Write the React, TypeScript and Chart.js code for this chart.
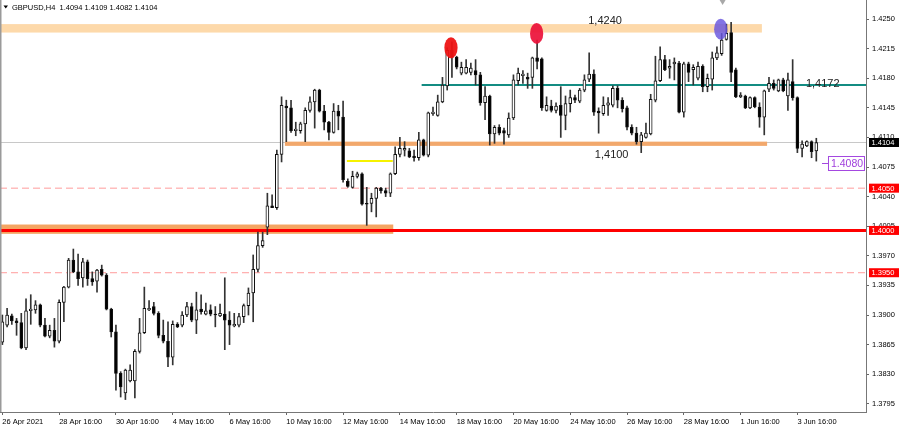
import { useEffect, useRef } from 'react';
import { Chart, registerables } from 'chart.js';

Chart.register(...registerables);

const FONT = "'Liberation Sans', Arial, sans-serif";

// ---- GBPUSD H4 candles (26 Apr 16:00 -> 4 Jun 08:00) ----
const opens = [
  1.3868,1.3888,1.3899,1.3893,1.3891,1.3861,1.3905,1.3906,1.3912,1.3888,
  1.3875,1.3882,1.3869,1.3915,1.3933,1.3965,1.3951,1.3944,1.3963,1.3943,
  1.3940,1.3954,1.3947,1.3907,1.3880,1.3831,1.3808,1.3822,1.3822,1.3857,
  1.3879,1.3906,1.3910,1.3902,1.3876,1.3869,1.3850,1.3889,1.3888,1.3900,
  1.3910,1.3894,1.3907,1.3901,1.3906,1.3901,1.3899,1.3901,1.3894,1.3887,
  1.3888,1.3898,1.3911,1.3926,1.3954,1.3982,1.4004,1.4029,1.4027,1.4090,
  1.4147,1.4145,1.4118,1.4118,1.4126,1.4142,1.4152,1.4166,1.4141,1.4128,
  1.4116,1.4141,1.4134,1.4058,1.4051,1.4064,1.4067,1.4032,1.4032,1.4038,
  1.4050,1.4047,1.4044,1.4067,1.4090,1.4095,1.4094,1.4088,1.4086,1.4107,
  1.4089,1.4138,1.4136,1.4152,1.4171,1.4213,1.4205,1.4186,1.4186,1.4187,
  1.4189,1.4184,1.4151,1.4159,1.4114,1.4122,1.4118,1.4113,1.4133,1.4177,
  1.4183,1.4181,1.4181,1.4204,1.4203,1.4142,1.4147,1.4142,1.4148,1.4136,
  1.4150,1.4157,1.4153,1.4166,1.4179,1.4185,1.4141,1.4138,1.4148,1.4148,
  1.4168,1.4154,1.4145,1.4122,1.4115,1.4105,1.4110,1.4114,1.4154,1.4177,
  1.4202,1.4192,1.4197,1.4198,1.4140,1.4197,1.4190,1.4180,1.4194,1.4170,
  1.4179,1.4204,1.4209,1.4226,1.4234,1.4190,1.4158,1.4159,1.4145,1.4157,
  1.4146,1.4134,1.4167,1.4174,1.4165,1.4178,1.4159,1.4176,1.4157,1.4097,
  1.4100,1.4105,1.4094,
];
const highs = [
  1.3900,1.3908,1.3901,1.3896,1.3902,1.3919,1.3924,1.3917,1.3913,1.3896,
  1.3888,1.3896,1.3918,1.3934,1.3967,1.3978,1.3972,1.3967,1.3965,1.3951,
  1.3954,1.3959,1.3949,1.3908,1.3888,1.3833,1.3836,1.3841,1.3859,1.3896,
  1.3933,1.3917,1.3915,1.3904,1.3894,1.3892,1.3893,1.3891,1.3904,1.3915,
  1.3914,1.3927,1.3924,1.3914,1.3912,1.3910,1.3913,1.3944,1.3904,1.3902,
  1.3902,1.3913,1.3932,1.3971,1.3998,1.3998,1.4044,1.4042,1.4095,1.4158,
  1.4154,1.4154,1.4128,1.4128,1.4145,1.4158,1.4167,1.4167,1.4148,1.4129,
  1.4150,1.4148,1.4153,1.4061,1.4070,1.4069,1.4068,1.4051,1.4044,1.4051,
  1.4051,1.4050,1.4068,1.4099,1.4110,1.4105,1.4097,1.4095,1.4116,1.4108,
  1.4140,1.4146,1.4160,1.4181,1.4216,1.4223,1.4206,1.4199,1.4202,1.4198,
  1.4202,1.4187,1.4170,1.4160,1.4124,1.4125,1.4121,1.4139,1.4184,1.4192,
  1.4189,1.4186,1.4205,1.4225,1.4204,1.4158,1.4154,1.4151,1.4170,1.4159,
  1.4166,1.4160,1.4168,1.4184,1.4210,1.4190,1.4145,1.4158,1.4157,1.4171,
  1.4171,1.4157,1.4147,1.4125,1.4122,1.4116,1.4127,1.4161,1.4206,1.4217,
  1.4207,1.4202,1.4204,1.4200,1.4199,1.4199,1.4196,1.4199,1.4196,1.4185,
  1.4211,1.4217,1.4233,1.4244,1.4246,1.4192,1.4163,1.4160,1.4158,1.4158,
  1.4151,1.4166,1.4181,1.4178,1.4179,1.4180,1.4186,1.4202,1.4158,1.4106,
  1.4106,1.4106,1.4109,
];
const lows = [
  1.3865,1.3886,1.3889,1.3876,1.3860,1.3859,1.3889,1.3902,1.3886,1.3874,
  1.3873,1.3862,1.3867,1.3892,1.3932,1.3950,1.3935,1.3933,1.3935,1.3935,
  1.3927,1.3946,1.3906,1.3874,1.3811,1.3803,1.3800,1.3821,1.3802,1.3855,
  1.3878,1.3905,1.3900,1.3873,1.3867,1.3839,1.3841,1.3885,1.3886,1.3898,
  1.3892,1.3878,1.3901,1.3900,1.3899,1.3886,1.3898,1.3859,1.3865,1.3886,
  1.3886,1.3891,1.3900,1.3892,1.3951,1.3980,1.3995,1.4027,1.4025,1.4081,
  1.4105,1.4116,1.4112,1.4115,1.4105,1.4140,1.4121,1.4140,1.4119,1.4107,
  1.4115,1.4119,1.4057,1.4051,1.4050,1.4062,1.4030,1.4006,1.4022,1.4016,
  1.4044,1.4040,1.4040,1.4066,1.4087,1.4088,1.4086,1.4082,1.4083,1.4088,
  1.4087,1.4136,1.4135,1.4151,1.4166,1.4181,1.4191,1.4184,1.4185,1.4184,
  1.4172,1.4148,1.4131,1.4101,1.4103,1.4113,1.4102,1.4110,1.4131,1.4172,
  1.4174,1.4168,1.4168,1.4191,1.4142,1.4141,1.4140,1.4139,1.4110,1.4119,
  1.4140,1.4151,1.4151,1.4164,1.4176,1.4136,1.4115,1.4136,1.4136,1.4146,
  1.4145,1.4140,1.4119,1.4113,1.4102,1.4092,1.4109,1.4113,1.4152,1.4176,
  1.4189,1.4180,1.4178,1.4139,1.4134,1.4176,1.4172,1.4178,1.4164,1.4164,
  1.4166,1.4202,1.4207,1.4225,1.4176,1.4157,1.4157,1.4144,1.4144,1.4145,
  1.4122,1.4113,1.4164,1.4166,1.4164,1.4164,1.4142,1.4154,1.4092,1.4087,
  1.4099,1.4086,1.4082,
];
const closes = [
  1.3892,1.3900,1.3893,1.3891,1.3861,1.3905,1.3907,1.3912,1.3888,1.3875,
  1.3882,1.3869,1.3915,1.3933,1.3965,1.3951,1.3943,1.3963,1.3943,1.3939,
  1.3953,1.3947,1.3907,1.3880,1.3831,1.3815,1.3835,1.3835,1.3857,1.3879,
  1.3908,1.3908,1.3902,1.3876,1.3869,1.3850,1.3889,1.3886,1.3900,1.3910,
  1.3894,1.3906,1.3904,1.3905,1.3901,1.3900,1.3902,1.3894,1.3888,1.3889,
  1.3898,1.3911,1.3926,1.3954,1.3982,1.3988,1.4029,1.4027,1.4090,1.4148,
  1.4145,1.4118,1.4120,1.4126,1.4142,1.4152,1.4166,1.4141,1.4128,1.4116,
  1.4141,1.4135,1.4060,1.4052,1.4064,1.4067,1.4031,1.4031,1.4038,1.4050,
  1.4047,1.4044,1.4067,1.4090,1.4097,1.4097,1.4087,1.4086,1.4107,1.4089,
  1.4139,1.4140,1.4152,1.4172,1.4213,1.4205,1.4193,1.4193,1.4193,1.4192,
  1.4184,1.4151,1.4159,1.4114,1.4122,1.4115,1.4115,1.4133,1.4178,1.4186,
  1.4185,1.4179,1.4204,1.4200,1.4145,1.4148,1.4142,1.4147,1.4136,1.4150,
  1.4157,1.4154,1.4166,1.4178,1.4185,1.4140,1.4139,1.4148,1.4151,1.4168,
  1.4154,1.4144,1.4122,1.4115,1.4105,1.4113,1.4115,1.4155,1.4177,1.4202,
  1.4190,1.4194,1.4199,1.4140,1.4197,1.4187,1.4193,1.4194,1.4170,1.4180,
  1.4204,1.4210,1.4225,1.4233,1.4187,1.4158,1.4160,1.4145,1.4157,1.4146,
  1.4134,1.4165,1.4174,1.4168,1.4178,1.4165,1.4178,1.4157,1.4097,1.4102,
  1.4105,1.4093,1.4104,
];

// time axis labels (bar index -> text)
const xTickIndex = [0, 12, 24, 36, 48, 60, 72, 84, 96, 108, 120, 132, 144, 156, 168];
const xTickText = [
  '26 Apr 2021', '28 Apr 16:00', '30 Apr 16:00', '4 May 16:00', '6 May 16:00',
  '10 May 16:00', '12 May 16:00', '14 May 16:00', '18 May 16:00', '20 May 16:00',
  '24 May 16:00', '26 May 16:00', '28 May 16:00', '1 Jun 16:00', '3 Jun 16:00',
];
const slotCount = 183; // bars + empty right margin (chart shift)
const categories = Array.from({ length: slotCount }, (_, i) => String(i));

// price axis
const yTickValues = [1.3795, 1.3830, 1.3865, 1.3900, 1.3935, 1.3970, 1.4005, 1.4040, 1.4075, 1.4110, 1.4145, 1.4180, 1.4215, 1.4250];
const yMin = 1.37853;
const yMax = 1.42725;

// header / markers
const headerText = 'GBPUSD,H4  1.4094 1.4109 1.4082 1.4104';
const bidPrice = 1.4104;
const redAxisLevels = [1.4050, 1.4000, 1.3950];
const dashedLevels = [1.4050, 1.3950];
const redLevel = 1.4000;
const zone1424 = [1.4234, 1.4244];
const zone1424Range = [-1, 160.5];
const zone1410 = [1.4100, 1.4105];
const zone1410Range = [59.7, 161.6];
const zone1400 = [1.3996, 1.4007];
const zone1400Range = [-1, 82.6];
const tealLevel = 1.4172;
const tealRange = [88.6, 200];
const yellowLevel = 1.4082;
const yellowRange = [72.8, 82.5];
const textLabels = ['1,4240', '1,4172', '1,4100'];
const textLabelIdx = [123.8, 169.8, 125.2];
const textLabelPrice = [1.42441, 1.4170, 1.40856];
const markerIdx = [94.8, 112.9, 151.8];
const markerPrice = [1.4216, 1.4233, 1.4238];
const markerColors = ['rgba(238,20,20,0.95)', 'rgba(236,16,56,0.92)', 'rgba(104,84,222,0.82)'];
const priceTag = 1.4080;
const priceTagIdx = 173.2;
const shiftIdx = 152.2;

const mtPlugin = {
  id: 'mtObjects',
  beforeDatasetsDraw(chart: any) {
    const { ctx, chartArea: a, scales } = chart;
    const xs = scales.x, ys = scales.y;
    const px = (i: number) => Math.max(a.left, Math.min(a.right, xs.getPixelForValue(i)));
    const py = (p: number) => ys.getPixelForValue(p);
    ctx.save();
    // bid line
    ctx.strokeStyle = '#c8c8c8';
    ctx.lineWidth = 1;
    ctx.beginPath();
    ctx.moveTo(a.left, Math.round(py(bidPrice)) + 0.5);
    ctx.lineTo(a.right, Math.round(py(bidPrice)) + 0.5);
    ctx.stroke();
    const band = (z: number[], r: number[], color: string) => {
      const x0 = px(r[0]), x1 = px(r[1]);
      const y0 = py(z[1]), y1 = py(z[0]);
      ctx.fillStyle = color;
      ctx.fillRect(x0, y0, x1 - x0, y1 - y0);
    };
    band(zone1424, zone1424Range, '#fdd9aa');
    band(zone1410, zone1410Range, '#f2a86c');
    band(zone1400, zone1400Range, '#f4a462');
    const hline = (p: number, x0: number, x1: number, color: string, w: number, dash: number[] = []) => {
      ctx.strokeStyle = color;
      ctx.lineWidth = w;
      ctx.setLineDash(dash);
      const yy = py(p);
      ctx.beginPath();
      ctx.moveTo(x0, yy);
      ctx.lineTo(x1, yy);
      ctx.stroke();
      ctx.setLineDash([]);
    };
    dashedLevels.forEach((p) => hline(p, a.left, a.right, '#ff9c9c', 1, [7, 4]));
    hline(redLevel, a.left, a.right, '#ff0000', 3);
    hline(tealLevel, px(tealRange[0]), px(tealRange[1]), '#138c82', 2);
    hline(yellowLevel, px(yellowRange[0]), px(yellowRange[1]), '#f6f200', 2);
    ctx.restore();
  },
  afterDatasetsDraw(chart: any) {
    const { ctx, scales } = chart;
    const xs = scales.x, ys = scales.y;
    ctx.save();
    markerIdx.forEach((idx, k) => {
      ctx.fillStyle = markerColors[k];
      ctx.beginPath();
      ctx.ellipse(xs.getPixelForValue(idx), ys.getPixelForValue(markerPrice[k]), 6.6, 10.5, 0, 0, Math.PI * 2);
      ctx.fill();
    });
    ctx.font = `11px ${FONT}`;
    ctx.fillStyle = '#222';
    ctx.textBaseline = 'alphabetic';
    ctx.textAlign = 'left';
    textLabels.forEach((t, k) => {
      ctx.fillText(t, xs.getPixelForValue(textLabelIdx[k]), ys.getPixelForValue(textLabelPrice[k]));
    });
    // purple price tag
    const tx = xs.getPixelForValue(priceTagIdx);
    const ty = ys.getPixelForValue(priceTag);
    ctx.strokeStyle = '#a448e0';
    ctx.lineWidth = 1;
    ctx.beginPath();
    ctx.moveTo(tx, Math.round(ty) + 0.5);
    ctx.lineTo(tx + 6, Math.round(ty) + 0.5);
    ctx.stroke();
    ctx.fillStyle = '#ffffff';
    ctx.fillRect(tx + 6.5, Math.round(ty) - 6.5, 36, 14);
    ctx.strokeRect(tx + 6.5, Math.round(ty) - 6.5, 36, 14);
    ctx.fillStyle = '#a040dc';
    ctx.font = `10.5px ${FONT}`;
    ctx.textBaseline = 'middle';
    ctx.fillText(priceTag.toFixed(4), tx + 9, Math.round(ty) + 1);
    ctx.restore();
  },
  afterDraw(chart: any) {
    const { ctx, chartArea: a, scales } = chart;
    const xs = scales.x, ys = scales.y;
    ctx.save();
    // axis price boxes
    ctx.font = `7.5px ${FONT}`;
    ctx.textBaseline = 'middle';
    ctx.textAlign = 'left';
    const box = (p: number, bg: string) => {
      const yy = ys.getPixelForValue(p);
      ctx.fillStyle = bg;
      ctx.fillRect(ys.left + 3, yy - 4.5, 30, 9);
      ctx.fillStyle = '#ffffff';
      ctx.fillText(p.toFixed(4), ys.left + 5.5, yy + 0.5);
    };
    box(bidPrice, '#000000');
    redAxisLevels.forEach((p) => box(p, '#ff0000'));
    // left border
    ctx.strokeStyle = '#9a9a9a';
    ctx.lineWidth = 1.5;
    ctx.beginPath();
    ctx.moveTo(a.left + 0.75, a.top);
    ctx.lineTo(a.left + 0.75, a.bottom);
    ctx.stroke();
    // chart shift marker
    const sx = xs.getPixelForValue(shiftIdx);
    ctx.fillStyle = '#a8a8a8';
    ctx.beginPath();
    ctx.moveTo(sx - 3, a.top);
    ctx.lineTo(sx + 3, a.top);
    ctx.lineTo(sx, a.top + 5);
    ctx.closePath();
    ctx.fill();
    // header
    ctx.fillStyle = '#000';
    ctx.beginPath();
    ctx.moveTo(3.5, 5.5);
    ctx.lineTo(8, 5.5);
    ctx.lineTo(5.75, 8.5);
    ctx.closePath();
    ctx.fill();
    ctx.font = `7.5px ${FONT}`;
    ctx.textBaseline = 'alphabetic';
    ctx.fillText(headerText, 12, 9.8);
    ctx.restore();
  },
};

export default function App() {
  const ref = useRef<HTMLCanvasElement | null>(null);
  useEffect(() => {
    if (!ref.current) return;
    const tickMap = new Map<number, string>();
    xTickIndex.forEach((i, k) => tickMap.set(i, xTickText[k]));
    const bodyData = opens.map((o, i) => [o, closes[i]]);
    const wickData = highs.map((h, i) => [lows[i], h]);
    const chart = new Chart(ref.current, {
      type: 'bar',
      data: {
        labels: categories,
        datasets: [
          {
            label: 'body',
            data: bodyData as any,
            grouped: false,
            barThickness: 3,
            minBarLength: 1,
            backgroundColor: opens.map((o, i) => (closes[i] >= o ? '#ffffff' : '#000000')),
            borderColor: '#111111',
            borderWidth: 1,
            borderSkipped: false,
            order: 0,
          } as any,
          {
            label: 'wick',
            data: wickData as any,
            grouped: false,
            barThickness: 1,
            backgroundColor: '#333333',
            borderWidth: 0,
            order: 1,
          } as any,
        ],
      },
      options: {
        animation: false,
        responsive: false,
        maintainAspectRatio: false,
        events: [],
        layout: { padding: 0 },
        plugins: { legend: { display: false }, tooltip: { enabled: false }, title: { display: false } },
        scales: {
          x: {
            type: 'category',
            offset: true,
            grid: {
              display: true,
              drawOnChartArea: false,
              drawTicks: true,
              tickLength: 3,
              offset: false,
              color: (c: any) => (tickMap.has(c.index) ? '#666666' : 'rgba(0,0,0,0)'),
            },
            border: { display: true, color: '#777777', width: 1 },
            ticks: {
              autoSkip: false,
              maxRotation: 0,
              minRotation: 0,
              align: 'start',
              padding: 2,
              color: '#000000',
              font: { size: 7.5, family: FONT },
              callback: (_v: any, i: number) => tickMap.get(i) ?? '',
            },
            afterFit: (s: any) => {
              s.height = 13;
              s.paddingLeft = 0;
              s.paddingRight = 0;
              s.paddingTop = 0;
              s.paddingBottom = 0;
            },
          },
          y: {
            type: 'linear',
            position: 'right',
            min: yMin,
            max: yMax,
            afterBuildTicks: (s: any) => { s.ticks = yTickValues.map((v) => ({ value: v })); },
            grid: { drawOnChartArea: false, drawTicks: true, tickLength: 3, color: '#666666' },
            border: { display: true, color: '#777777', width: 1 },
            ticks: {
              padding: 3,
              color: '#000000',
              font: { size: 7.5, family: FONT },
              callback: (v: any) => Number(v).toFixed(4),
            },
            afterFit: (s: any) => {
              s.width = 34;
              s.paddingTop = 0;
              s.paddingBottom = 0;
              s.paddingLeft = 0;
              s.paddingRight = 0;
            },
          },
        },
      } as any,
      plugins: [mtPlugin],
    });
    return () => chart.destroy();
  }, []);
  return (
    <div style={{ position: 'absolute', left: 0, top: 0, width: 900, height: 425, background: '#ffffff' }}>
      <canvas ref={ref} width={900} height={425} style={{ display: 'block', width: 900, height: 425 }} />
    </div>
  );
}
